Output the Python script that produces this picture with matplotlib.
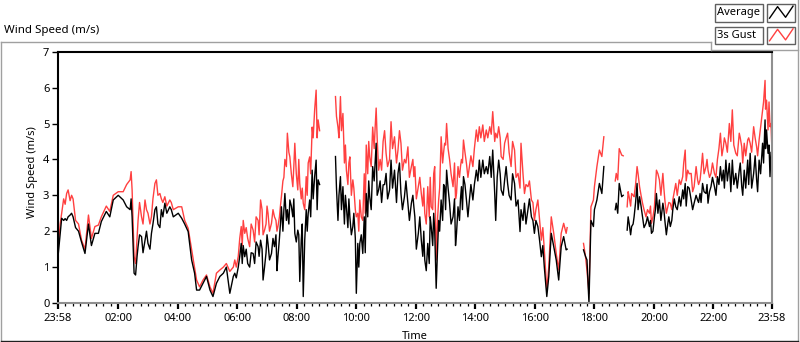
import numpy as np
import matplotlib
matplotlib.use('Agg')
import matplotlib.pyplot as plt
from matplotlib.lines import Line2D
from matplotlib.patches import Rectangle

nan = float('nan')

# minutes after 23:58 (start of record); nan rows mark gaps in the record
minutes = [0, 5, 8, 12, 15, 18, 21, 25, 28, 31, 36, 42, 48, 55, 62, 68, 75, 82, 88, 98,
           105, 112, 122, 132, 139, 146, 148, 150, 154, 157, 162, 169, 176, 182, 189, 196, 199, 206, 216, 226,
           233, 243, 250, 256, 263, 270, 276, 280, 286, 293, 300, 307, 313, 320, 327, 334, 340, 347, 354, 357,
           364, 370, 377, 387, 394, 404, 409, 414, 417, 424, 431, 437, 444, 451, 458, 463, 468, 474, 478, 484,
           488, 491, 495, 498, 501, 508, 513, 518, 521, 525, 528, 530, 560, 565, 570, 575, 582, 589, 595, 600,
           602, 605, 609, 615, 622, 629, 635, 642, 647, 656, 662, 669, 672, 679, 686, 692, 699, 706, 713, 718,
           720, 727, 733, 740, 746, 753, 760, 763, 768, 773, 780, 784, 790, 797, 804, 807, 814, 818, 824, 830,
           837, 844, 850, 857, 864, 871, 877, 881, 883, 886, 889, 894, 901, 907, 914, 921, 928, 932, 934, 941,
           948, 955, 961, 968, 975, 981, 986, 990, 995, 1000, 1005, 1010, 1015, 1020, 1025, 1027, 1030, 1060, 1064, 1067,
           1071, 1075, 1080, 1082, 1087, 1092, 1097, 1101, 1103, 1124, 1126, 1129, 1132, 1137, 1140, 1143, 1148, 1152, 1157, 1162,
           1168, 1173, 1179, 1186, 1193, 1197, 1203, 1207, 1213, 1220, 1224, 1230, 1235, 1240, 1246, 1253, 1260, 1265, 1270, 1277,
           1283, 1290, 1295, 1300, 1307, 1311, 1317, 1324, 1330, 1336, 1342, 1347, 1354, 1360, 1367, 1374, 1379, 1384, 1391, 1396,
           1403, 1409, 1414, 1421, 1426, 1429, 1432, 1436, 1440]

average = [1.2, 1.94, 2.36, 2.3, 2.35, 2.3, 2.4, 2.45, 2.5, 2.4, 2.1, 2.0, 1.7, 1.38, 2.2, 1.6, 1.94, 1.94, 2.27, 2.55,
           2.4, 2.87, 3.0, 2.87, 2.68, 2.6, 2.9, 2.4, 0.83, 0.78, 1.57, 1.85, 1.75, 1.66, 1.94, 2.6, 2.68, 2.1, 2.78, 2.68,
           2.4, 2.5, 2.36, 2.2, 1.99, 1.2, 0.83, 0.36, 0.36, 0.55, 0.74, 0.36, 0.18, 0.55, 0.74, 0.83, 1.0, 0.27, 0.74, 0.83,
           1.0, 1.66, 1.29, 1.0, 1.38, 1.57, 1.75, 0.64, 1.0, 1.66, 1.38, 1.57, 1.29, 2.68, 3.05, 2.6, 2.87, 2.4, 1.94, 2.03,
           0.6, 1.75, 0.18, 1.75, 2.6, 2.87, 3.7, 3.52, 3.98, 3.43, 3.3, nan, 4.08, 2.3, 3.52, 3.24, 2.68, 2.4, 2.13, 1.8,
           0.27, 1.66, 1.66, 1.38, 3.05, 2.96, 3.8, 4.45, 3.15, 3.29, 3.61, 3.15, 3.98, 3.7, 3.61, 3.05, 2.96, 2.78, 2.78, 2.68,
           2.4, 1.94, 1.75, 1.2, 1.66, 2.13, 2.03, 0.41, 2.3, 2.87, 3.24, 3.7, 2.78, 2.4, 1.94, 2.68, 3.24, 3.52, 2.87, 2.87,
           2.87, 3.7, 3.98, 3.98, 3.8, 4.08, 4.26, 3.05, 2.3, 3.5, 3.98, 3.15, 3.43, 3.33, 2.87, 3.33, 2.87, 1.99, 2.6, 2.78,
           2.6, 2.4, 1.94, 2.13, 1.29, 1.0, 0.18, 0.74, 1.94, 1.57, 1.2, 0.64, 1.57, 1.85, 1.48, 1.5, nan, 1.48, 1.3, 1.2,
           0.0, 2.3, 2.13, 2.6, 2.87, 3.33, 3.05, 3.8, nan, 2.6, 2.78, 2.5, 3.33, 2.96, 3.0, nan, 2.03, 2.22, 2.13, 2.4,
           3.33, 2.96, 2.4, 2.22, 2.13, 1.94, 2.4, 3.05, 2.87, 2.78, 2.3, 2.22, 2.13, 2.6, 2.68, 2.96, 3.15, 3.33, 3.24, 2.87,
           2.78, 2.87, 3.05, 3.33, 3.05, 2.78, 3.24, 3.24, 3.52, 3.8, 3.7, 3.98, 3.89, 3.98, 3.61, 3.7, 3.24, 3.7, 3.98, 4.17,
           3.61, 3.43, 3.98, 4.45, 5.1, 4.82, 4.17, 3.52, 3.6]

gust = [1.4, 2.2, 2.5, 2.9, 2.75, 3.05, 3.15, 2.85, 3.0, 2.9, 2.3, 2.2, 1.75, 1.5, 2.45, 1.8, 2.13, 2.17, 2.4, 2.7,
        2.55, 3.0, 3.1, 3.1, 3.3, 3.43, 3.66, 3.15, 1.3, 1.1, 2.3, 2.4, 2.87, 2.5, 2.4, 3.33, 3.43, 3.05, 2.96, 2.87,
        2.6, 2.68, 2.68, 2.3, 2.08, 1.48, 0.97, 0.64, 0.45, 0.64, 0.78, 0.45, 0.27, 0.83, 0.92, 1.0, 1.1, 0.88, 1.0, 1.2,
        1.3, 2.13, 1.94, 1.57, 2.03, 2.3, 2.87, 1.9, 2.03, 2.5, 2.22, 2.4, 2.13, 2.96, 4.0, 4.73, 4.07, 3.24, 4.45, 3.15,
        3.33, 2.9, 2.78, 2.6, 3.52, 4.07, 4.9, 5.38, 5.93, 5.1, 4.8, nan, 5.75, 4.9, 5.75, 5.28, 3.7, 4.07, 3.43, 2.6,
        2.4, 2.5, 2.87, 2.3, 4.4, 4.07, 4.9, 5.43, 3.7, 4.5, 4.17, 4.0, 5.05, 4.63, 4.26, 4.45, 4.0, 4.35, 3.8, 3.52,
        3.8, 3.24, 3.05, 2.5, 3.24, 2.68, 3.8, 1.2, 2.87, 4.63, 4.45, 5.0, 4.0, 3.24, 3.05, 3.8, 4.0, 4.54, 3.89, 3.8,
        3.8, 4.82, 4.91, 4.96, 4.82, 4.91, 5.33, 4.5, 4.73, 4.6, 4.91, 4.08, 4.45, 4.73, 3.8, 4.26, 3.61, 3.2, 4.45, 3.05,
        3.24, 2.87, 2.3, 2.87, 1.75, 1.48, 0.36, 1.0, 2.4, 1.94, 1.38, 0.92, 1.94, 2.22, 1.94, 2.1, nan, 1.66, 1.3, 0.9,
        0.27, 2.68, 2.87, 3.24, 3.8, 4.26, 4.08, 4.63, nan, 3.4, 3.61, 3.43, 4.3, 4.12, 4.1, nan, 2.68, 2.96, 3.05, 2.96,
        3.8, 3.24, 2.78, 2.4, 2.5, 2.22, 2.68, 3.7, 3.43, 3.61, 2.87, 2.68, 2.78, 2.87, 3.33, 3.43, 3.52, 4.26, 3.7, 3.61,
        3.24, 3.43, 3.43, 4.17, 3.8, 3.7, 3.61, 3.61, 4.0, 4.73, 4.35, 4.45, 5.0, 5.38, 4.17, 4.73, 4.35, 4.45, 4.54, 4.45,
        4.91, 4.35, 4.54, 5.38, 6.2, 5.65, 4.82, 4.91, 4.2]

# additional readings of the fluctuations between the samples above
minutes_extra = [160, 165, 172, 179, 186, 192, 202, 209, 212, 220, 229,
                 360, 367, 372, 374, 380, 383, 390, 397, 400, 406, 412, 420, 422, 427, 434, 440, 442, 447, 449, 454,
                 456, 461, 466, 471, 476, 481, 486, 493, 503, 505, 510, 515, 523,
                 562, 567, 572, 578, 580, 585, 587, 592, 597, 607, 612, 618, 620, 625, 627, 632, 638, 640, 644, 650,
                 653, 659, 665, 675, 683, 689, 695, 702, 709, 716,
                 723, 730, 736, 738, 743, 749, 751, 756, 758, 766, 770, 776, 778, 782, 787, 793, 800, 802, 810, 812,
                 816, 821, 827, 833, 840, 847, 853, 860, 867, 874, 892, 898, 904, 910, 917, 924, 938, 944, 951, 958,
                 964, 971, 978,
                 1150, 1155, 1160, 1165, 1170, 1176, 1182, 1189, 1195, 1200, 1205, 1210, 1216, 1222, 1227, 1232, 1238,
                 1243, 1249, 1256, 1262, 1267, 1273, 1280, 1287, 1292, 1297, 1303, 1309, 1314, 1320, 1327, 1333, 1339,
                 1344, 1350, 1357, 1363, 1370, 1376, 1381, 1387, 1393, 1399, 1406, 1411, 1417, 1423, 1427, 1434, 1438]

average_extra = [1.3, 1.9, 1.4, 2.0, 1.5, 2.2, 2.2, 2.6, 2.4, 2.5, 2.6,
                 0.7, 1.3, 1.1, 1.6, 1.5, 1.1, 1.4, 1.1, 1.7, 1.3, 1.5, 1.4, 1.9, 1.2, 1.8, 1.9, 0.9, 1.8, 2.2, 2.0,
                 2.6, 2.3, 2.2, 2.7, 2.9, 1.7, 1.9, 2.2, 2.0, 2.5, 2.4, 2.9, 2.6,
                 3.2, 3.0, 2.6, 2.2, 3.0, 2.1, 2.9, 1.9, 2.5, 1.0, 1.9, 2.4, 1.4, 2.4, 3.4, 2.6, 3.4, 3.9, 3.0, 3.4,
                 2.8, 3.3, 2.9, 3.2, 2.8, 3.9, 2.6, 3.4, 2.3, 3.0,
                 1.5, 2.4, 1.3, 2.0, 0.9, 1.1, 2.4, 1.6, 2.5, 1.6, 2.0, 2.3, 3.3, 2.6, 3.2, 2.2, 2.9, 1.6, 2.3, 2.9,
                 2.6, 3.3, 2.4, 3.3, 3.3, 3.4, 3.5, 3.6, 3.6, 3.5, 3.6, 3.0, 3.8, 3.0, 3.6, 2.7, 2.3, 2.2, 2.9, 2.3,
                 2.3, 1.8, 1.6,
                 2.4, 1.9, 2.2, 2.8, 2.6, 2.7, 2.1, 2.4, 2.3, 2.0, 2.6, 2.5, 2.3, 2.6, 1.9, 2.4, 2.3,
                 2.9, 2.6, 2.7, 2.9, 2.7, 3.2, 2.6, 3.0, 2.8, 2.8, 3.1, 3.3, 3.1, 3.5, 3.0, 3.3, 3.4,
                 3.2, 3.4, 3.1, 3.3, 3.2, 3.9, 3.0, 3.2, 3.3, 3.2, 4.1, 3.1, 3.6, 3.9, 4.3, 4.4, 4.2]

gust_extra = [1.8, 2.8, 2.2, 2.6, 2.2, 2.9, 3.0, 2.9, 2.8, 2.7, 2.8,
              1.0, 1.8, 1.6, 2.3, 2.1, 1.8, 2.2, 1.7, 2.4, 1.9, 2.6, 2.2, 2.7, 2.0, 2.6, 2.3, 2.0, 2.4, 2.7, 3.4,
              3.5, 3.8, 4.2, 3.6, 3.8, 3.6, 4.0, 3.2, 3.0, 3.9, 3.6, 4.6, 4.6,
              5.2, 4.6, 4.8, 3.9, 4.4, 3.3, 3.9, 3.0, 3.2, 2.0, 2.4, 3.6, 2.5, 3.6, 4.5, 3.8, 4.3, 4.9, 4.6, 4.0,
              3.7, 4.8, 3.8, 4.3, 3.9, 4.8, 3.7, 3.9, 3.5, 4.0,
              2.9, 3.5, 2.7, 3.2, 2.2, 2.4, 3.5, 2.6, 3.6, 2.4, 3.2, 3.9, 4.2, 4.4, 4.3, 3.6, 3.9, 2.9, 3.5, 3.8,
              3.9, 4.2, 3.5, 4.1, 4.3, 4.5, 4.6, 4.5, 4.6, 4.7, 4.6, 4.0, 4.6, 4.2, 4.5, 3.5, 3.6, 3.3, 3.4, 2.8,
              2.6, 2.4, 2.1,
              3.1, 2.7, 3.0, 3.3, 3.6, 3.0, 2.6, 2.6, 2.7, 2.4, 3.2, 3.6, 3.0, 3.2, 2.5, 2.8, 2.6,
              3.1, 3.0, 3.3, 3.9, 3.4, 3.6, 3.1, 3.8, 3.3, 3.7, 3.6, 4.0, 3.5, 3.9, 3.5, 4.3, 4.1,
              4.6, 4.2, 4.5, 4.4, 4.1, 4.6, 3.9, 4.1, 4.6, 4.2, 4.6, 4.1, 4.9, 5.6, 5.4, 5.6, 5.0]

major_tick_minutes = [0, 122, 242, 362, 482, 602, 722, 842, 962, 1082, 1202, 1322, 1440]
major_tick_labels = ['23:58', '02:00', '04:00', '06:00', '08:00', '10:00', '12:00',
                     '14:00', '16:00', '18:00', '20:00', '22:00', '23:58']
y_ticks = [0, 1, 2, 3, 4, 5, 6, 7]

t_all = np.array(minutes + minutes_extra, dtype=float)
a_all = np.array(average + average_extra, dtype=float)
g_all = np.array(gust + gust_extra, dtype=float)
order = np.argsort(t_all, kind='stable')
t_all, a_all, g_all = t_all[order], a_all[order], g_all[order]

plt.rcParams['font.family'] = ['Noto Sans', 'DejaVu Sans']
W, H = 800, 342
fig = plt.figure(figsize=(W / 100, H / 100), dpi=100)
fig.patch.set_facecolor('white')

def fx(px):
    return px / W

def fy(py):
    return 1 - py / H

L, R, T, B = 57.7, 772.0, 51.7, 303.0
ax = fig.add_axes([fx(L), fy(B), (R - L) / W, (B - T) / H])
ax.plot(t_all, g_all, color='#ff4040', lw=1.0)
ax.plot(t_all, a_all, color='black', lw=1.0)
ax.set_xlim(0, 1440)
ax.set_ylim(0, 7)
ax.set_yticks(y_ticks)
ax.set_xticks(major_tick_minutes, major_tick_labels)
minor = []
for a, b in zip(major_tick_minutes[:-1], major_tick_minutes[1:]):
    minor += list(np.linspace(a, b, 9)[1:-1])
ax.set_xticks(minor, minor=True)
ax.tick_params(axis='x', which='major', length=4, width=1.6, pad=3, labelsize=8, colors='black')
ax.tick_params(axis='x', which='minor', length=2.5, width=0.9, color='black')
ax.tick_params(axis='y', which='major', length=4, width=1.0, pad=2, labelsize=8)
for s in ['left', 'top']:
    ax.spines[s].set_color('black')
    ax.spines[s].set_linewidth(1.5)
for s in ['bottom', 'right']:
    ax.spines[s].set_color('#909090')
    ax.spines[s].set_linewidth(1.5)
ax.set_xlabel('Time', fontsize=8, labelpad=5)
ax.set_ylabel('Wind Speed (m/s)', fontsize=8)
ax.yaxis.set_label_coords(-0.028, 0.52)

# panel title
fig.text(fx(4), fy(31), 'Wind Speed (m/s)', fontsize=8.3, va='center', ha='left')

# panel frame
gray = '#a0a0a0'
for xs, ys, c in [([1, 711], [42, 42], gray), ([711, 711], [42, 50], gray),
                  ([711, 798], [50, 50], gray), ([798, 798], [0, 341], gray),
                  ([1, 1], [42, 341], gray), ([1, 798], [341, 341], '#202020')]:
    fig.add_artist(Line2D([fx(x) for x in xs], [fy(y) for y in ys], color=c, lw=1.0,
                          transform=fig.transFigure))

# legend
for (y0, y1), name, col in [((4, 21.7), 'Average', 'black'), ((26.7, 44.3), '3s Gust', '#ff4040')]:
    fig.add_artist(Rectangle((fx(715), fy(y1)), (762.7 - 715) / W, (y1 - y0) / H,
                             transform=fig.transFigure, facecolor='white', edgecolor='#606060', lw=1.0))
    fig.add_artist(Rectangle((fx(766.7), fy(y1)), (795.3 - 766.7) / W, (y1 - y0) / H,
                             transform=fig.transFigure, facecolor='white', edgecolor='#606060', lw=1.0))
    fig.text(fx(717), fy((y0 + y1) / 2), name, fontsize=8, va='center', ha='left')
    bx0, bx1 = 766.7, 795.3
    zx = [0.1, 0.38, 0.66, 0.92]
    zy = [0.2, 0.85, 0.25, 0.88]
    fig.add_artist(Line2D([fx(bx0 + f * (bx1 - bx0)) for f in zx],
                          [fy(y1 - f * (y1 - y0)) for f in zy],
                          color=col, lw=1.0, transform=fig.transFigure))

fig.savefig('out.png', dpi=100)
